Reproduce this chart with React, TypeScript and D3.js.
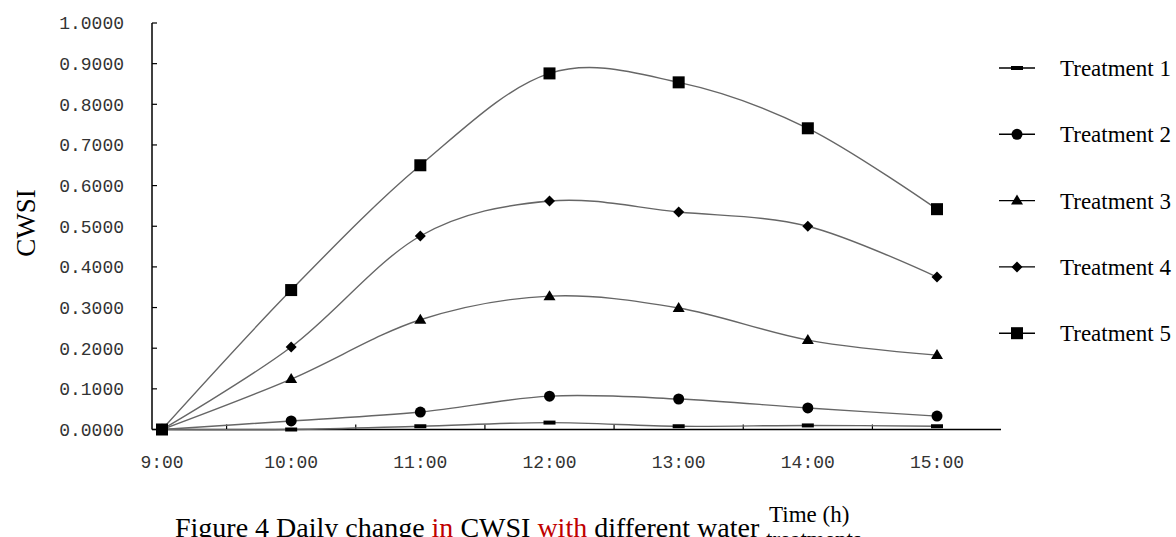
import React from 'react';
import * as d3 from 'd3';

const times = ['9:00', '10:00', '11:00', '12:00', '13:00', '14:00', '15:00'];
const yTicks = [0, 0.1, 0.2, 0.3, 0.4, 0.5, 0.6, 0.7, 0.8, 0.9, 1.0];

const treatment1 = [0, 0.0, 0.008, 0.017, 0.008, 0.01, 0.008];
const treatment2 = [0, 0.021, 0.043, 0.082, 0.075, 0.053, 0.033];
const treatment3 = [0, 0.124, 0.27, 0.328, 0.299, 0.22, 0.183];
const treatment4 = [0, 0.203, 0.476, 0.562, 0.535, 0.5, 0.375];
const treatment5 = [0, 0.343, 0.65, 0.876, 0.854, 0.741, 0.542];

const seriesNames = ['Treatment 1', 'Treatment 2', 'Treatment 3', 'Treatment 4', 'Treatment 5'];
const seriesValues = [treatment1, treatment2, treatment3, treatment4, treatment5];
const markers = ['dash', 'circle', 'triangle', 'diamond', 'square'];

const width = 1176;
const height = 537;
const axisFont = '"Liberation Mono", "DejaVu Sans Mono", monospace';
const serif = '"Liberation Serif", "Times New Roman", serif';

function Marker({ type, x, y }: { type: string; x: number; y: number }) {
  if (type === 'dash') return <rect x={x - 6} y={y - 2} width={12} height={4} fill="#000" />;
  if (type === 'circle') return <circle cx={x} cy={y} r={5.5} fill="#000" />;
  if (type === 'triangle')
    return <path d={`M${x},${y - 6}L${x + 6},${y + 4}L${x - 6},${y + 4}Z`} fill="#000" />;
  if (type === 'diamond')
    return <path d={`M${x},${y - 5.5}L${x + 5.5},${y}L${x},${y + 5.5}L${x - 5.5},${y}Z`} fill="#000" />;
  return <rect x={x - 6} y={y - 6} width={12} height={12} fill="#000" />;
}

export default function App() {
  const x = d3.scalePoint<string>().domain(times).range([162, 937]);
  const y = d3.scaleLinear().domain([0, 1]).range([429.5, 23]);
  const step = x.step();
  const line = d3
    .line<number>()
    .x((_, i) => x(times[i]) as number)
    .y((d) => y(d))
    .curve(d3.curveCatmullRom.alpha(0));

  const midTicks = times.slice(0, -1).map((t) => (x(t) as number) + step / 2);

  return (
    <svg
      width={width}
      height={height}
      style={{ position: 'absolute', left: 0, top: 0, background: '#fff' }}
    >
      {/* y axis */}
      <line x1={152} x2={152} y1={y(1)} y2={y(0)} stroke="#000" strokeWidth={1.5} />
      {yTicks.map((t) => (
        <g key={t}>
          <line x1={152} x2={157} y1={y(t)} y2={y(t)} stroke="#000" strokeWidth={1.2} />
          <text
            x={124}
            y={y(t)}
            dy="0.35em"
            textAnchor="end"
            fontFamily={axisFont}
            fontSize={18}
            fill="#333"
          >
            {t.toFixed(4)}
          </text>
        </g>
      ))}
      {/* x axis */}
      <line x1={152} x2={1001} y1={y(0)} y2={y(0)} stroke="#000" strokeWidth={1.5} />
      {midTicks.map((mx) => (
        <line key={mx} x1={mx} x2={mx} y1={y(0)} y2={y(0) - 5} stroke="#000" strokeWidth={1.2} />
      ))}
      {times.map((t) => (
        <text
          key={t}
          x={x(t)}
          y={468}
          textAnchor="middle"
          fontFamily={axisFont}
          fontSize={18}
          fill="#333"
        >
          {t}
        </text>
      ))}
      <text
        transform={`translate(35,${223}) rotate(-90)`}
        textAnchor="middle"
        fontFamily={serif}
        fontSize={27}
        fill="#000"
      >
        CWSI
      </text>

      {/* series */}
      {seriesValues.map((vals, si) => (
        <g key={seriesNames[si]}>
          <path d={line(vals) || ''} fill="none" stroke="#666" strokeWidth={1.4} />
          {vals.map((v, i) => (
            <Marker key={i} type={markers[si]} x={x(times[i]) as number} y={y(v)} />
          ))}
        </g>
      ))}

      {/* legend */}
      {seriesNames.map((name, i) => {
        const ly = 68 + i * 66.3;
        return (
          <g key={name}>
            <line x1={999} x2={1035} y1={ly} y2={ly} stroke="#000" strokeWidth={1.4} />
            <Marker type={markers[i]} x={1017} y={ly} />
            <text x={1060} y={ly} dy="0.35em" fontFamily={serif} fontSize={23} fill="#000">
              {name}
            </text>
          </g>
        );
      })}

      {/* caption */}
      <text x={175} y={537} fontFamily={serif} fontSize={28} fill="#000">
        Figure 4 Daily change <tspan fill="#c00000">in</tspan> CWSI{' '}
        <tspan fill="#c00000">with</tspan> different water treatments
      </text>
      <rect x={763} y={496} width={120} height={41} fill="#fff" />
      <text x={769} y={522} fontFamily={serif} fontSize={23} fill="#000">
        Time (h)
      </text>
      <text x={766} y={547} fontFamily={serif} fontSize={23} fill="#000">
        treatments
      </text>
    </svg>
  );
}
